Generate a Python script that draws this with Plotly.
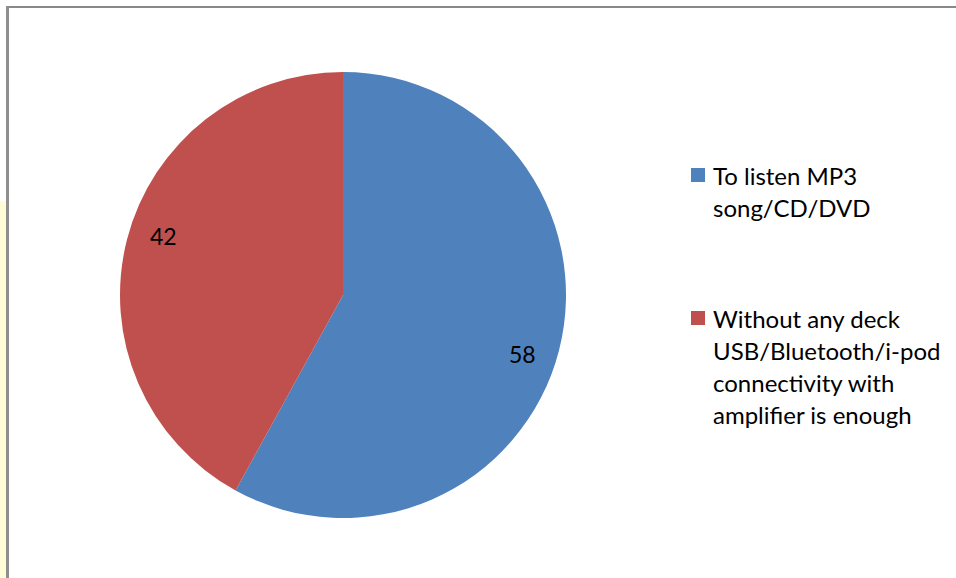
import math
import plotly.graph_objects as go

# Survey responses (percent)
labels = [
    "To listen MP3 song/CD/DVD",
    "Without any deck USB/Bluetooth/i-pod connectivity with amplifier is enough",
]
legend_lines = [
    ["To listen MP3", "song/CD/DVD"],
    ["Without any deck", "USB/Bluetooth/i-pod", "connectivity with", "amplifier is enough"],
]
values = [58, 42]
colors = ["#4F81BD", "#C0504D"]

W, H = 956, 578
FONT = "Lato"

# pie placement in pixels
pie_cx, pie_cy, pie_r = 343, 295, 223
dom_x = [(pie_cx - pie_r) / W, (pie_cx + pie_r) / W]
dom_y = [(H - pie_cy - pie_r) / H, (H - pie_cy + pie_r) / H]

fig = go.Figure(
    go.Pie(
        labels=labels,
        values=values,
        sort=False,
        direction="clockwise",
        rotation=0,
        marker=dict(colors=colors, line=dict(width=0)),
        textinfo="none",
        hoverinfo="label+value",
        showlegend=False,
        domain=dict(x=dom_x, y=dom_y),
    )
)

annotations = []
shapes = []

# value labels near the rim, slightly past the middle angle of each slice
label_r = 0.845
label_shift = math.radians(3.8)
total = sum(values)
start = 0.0
for v in values:
    mid = (start + v / 2) / total * 2 * math.pi + label_shift
    start += v
    rr = label_r * pie_r
    px = pie_cx + rr * math.sin(mid)
    py = pie_cy - rr * math.cos(mid)
    annotations.append(dict(
        x=px / W, y=1 - py / H, xref="paper", yref="paper",
        text=str(v), showarrow=False, xanchor="center", yanchor="middle",
        font=dict(family=FONT, size=23, color="#000000"),
    ))

# legend
leg_x_box = 691
leg_box = 14
leg_text_x = 711
leg_tops = [168, 311]
line_step = 32
for lines, col, top in zip(legend_lines, colors, leg_tops):
    shapes.append(dict(
        type="rect", xref="paper", yref="paper",
        x0=leg_x_box / W, x1=(leg_x_box + leg_box) / W,
        y0=1 - (top + leg_box) / H, y1=1 - top / H,
        fillcolor=col, line=dict(width=0),
    ))
    for i, ln in enumerate(lines):
        cy = top + leg_box / 2 + i * line_step
        annotations.append(dict(
            x=leg_text_x / W, y=1 - cy / H, xref="paper", yref="paper",
            text=ln, showarrow=False, xanchor="left", yanchor="middle",
            font=dict(family=FONT, size=24, color="#000000"),
        ))

# pale strip on the far left edge
shapes.append(dict(
    type="rect", xref="paper", yref="paper",
    x0=0, x1=6 / W, y0=0, y1=1 - 201 / H,
    fillcolor="#FEFED6", line=dict(width=0), layer="below",
))
# chart frame (top and left edges)
shapes.append(dict(
    type="line", xref="paper", yref="paper",
    x0=7 / W, x1=1, y0=1 - 7 / H, y1=1 - 7 / H,
    line=dict(color="#898989", width=2),
))
shapes.append(dict(
    type="line", xref="paper", yref="paper",
    x0=7.5 / W, x1=7.5 / W, y0=0, y1=1 - 6 / H,
    line=dict(color="#8f8f8f", width=3),
))

fig.update_layout(
    width=W, height=H,
    margin=dict(l=0, r=0, t=0, b=0),
    paper_bgcolor="white",
    plot_bgcolor="white",
    annotations=annotations,
    shapes=shapes,
    font=dict(family=FONT),
)

fig.write_html("out.html")
